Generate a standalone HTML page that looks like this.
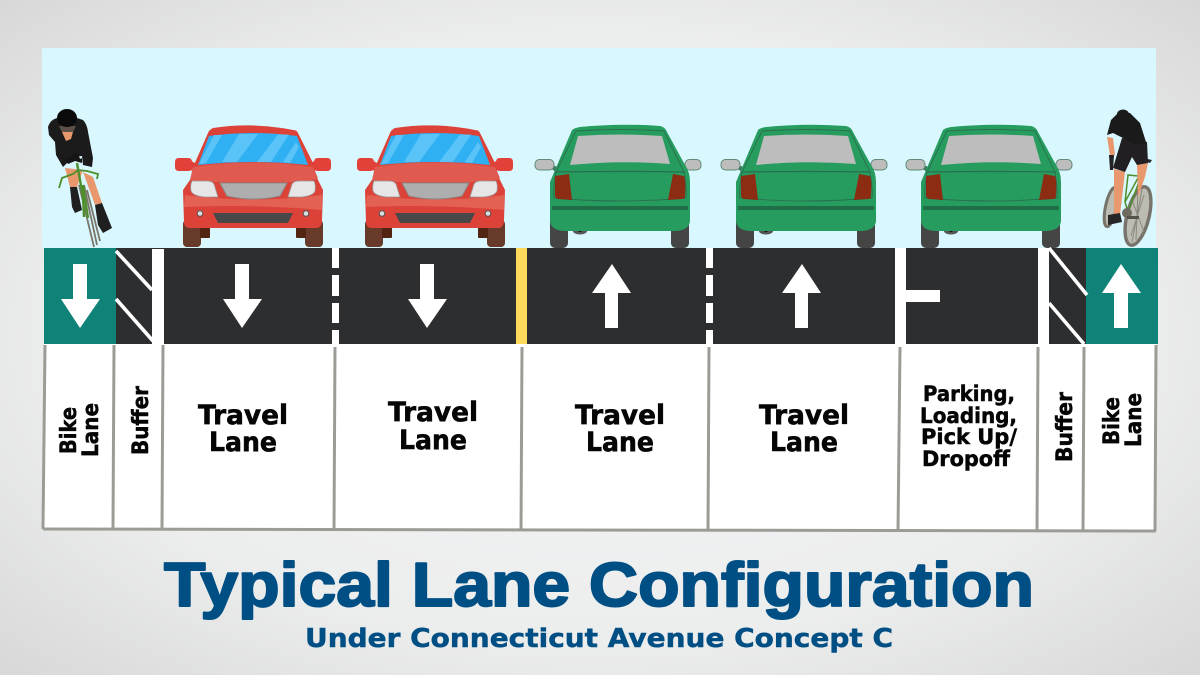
<!DOCTYPE html>
<html lang="en"><head><meta charset="utf-8"><title>Typical Lane Configuration</title>
<style>
html,body{margin:0;padding:0;background:#e4e5e6}
svg{display:block}
text{font-family:"DejaVu Sans","Liberation Sans",sans-serif;font-weight:700}
.l{fill:#050505;stroke:#050505;stroke-width:.6px;font-size:27px}
.p{fill:#050505;stroke:#050505;stroke-width:.5px;font-size:21px}
.v{fill:#050505;stroke:#050505;stroke-width:.5px;font-size:22px}
.t{font-family:"Liberation Sans",sans-serif;fill:#004f84;stroke:#004f84;stroke-width:2px;stroke-linejoin:round;font-size:62px}
.s{fill:#004f84;stroke:#004f84;stroke-width:.5px;font-size:26px}
</style></head><body>
<svg width="1200" height="675" viewBox="0 0 1200 675" xmlns="http://www.w3.org/2000/svg">
<defs>
<radialGradient id="bg" cx="50%" cy="50%" r="75%">
<stop offset="0" stop-color="#f4f5f6"/><stop offset=".6" stop-color="#eceded"/><stop offset="1" stop-color="#d4d4d4"/>
</radialGradient>
<g id="red">
<rect x="183" y="220" width="18" height="27" rx="4" fill="#683a2a"/>
<rect x="305" y="220" width="18" height="27" rx="4" fill="#683a2a"/>
<rect x="200" y="226" width="10" height="12" rx="1" fill="#512512"/>
<rect x="296" y="226" width="10" height="12" rx="1" fill="#512512"/>
<rect x="175" y="158" width="17" height="13" rx="3.500" fill="#e2413a"/>
<rect x="314" y="158" width="17" height="13" rx="3.500" fill="#e2413a"/>
<path d="M190 160L198 165L196 172L190 170ZM316 160L308 165L310 172L316 170Z" fill="#e2413a"/>
<path d="M183 190L192 177L194 165L208 133Q209 130 213 128Q253 122 293 130Q297 130 298 133L313 163L317 178L323 190L322 220Q322 227 317 228H190Q184 228 184 222Z" fill="#dd4238"/>
<path d="M198 165L209 136Q253 130 297 136L308 165Q253 159 198 165Z" fill="#2eb0f3"/>
<path d="M199 164L214 135H222L206 163ZM222 162L239 134H258L237 162ZM257 162L278 134.500H289L271 162ZM283 162L296 142L299 147L290 163Z" fill="#5ac3f8"/>
<path d="M193 167Q253 158 313 167L318 178Q316 181 287 182H220Q192 182 190 180Z" fill="#e15a4f"/>
<path d="M185 195Q253 204 322 195L322 210Q253 204 184 207Z" fill="#e36152"/>
<path d="M192 181H207Q212 181 214 184L218 197H205Q193 196 191 191Q190 185 192 181Z" fill="#e6e6e6" stroke="#999" stroke-width=".8"/>
<path d="M314 181H299Q294 181 292 184L288 197H301Q313 196 315 191Q316 185 314 181Z" fill="#e6e6e6" stroke="#999" stroke-width=".8"/>
<path d="M220 183H287L280 196Q253 202 227 196Z" fill="#aeaeae" stroke="#8a8a8a" stroke-width="1"/>
<path d="M213 213H293L288 223H218Z" fill="#484848"/>
<circle cx="200" cy="213.500" r="2.800" fill="#ddd" stroke="#555" stroke-width="1"/>
<circle cx="306" cy="213.500" r="2.800" fill="#ddd" stroke="#555" stroke-width="1"/>
</g>
<g id="green">
<rect x="550" y="215" width="18" height="33" rx="5" fill="#454545"/>
<rect x="671" y="215" width="18" height="33" rx="5" fill="#454545"/>
<ellipse cx="580" cy="231" rx="7" ry="3.500" fill="#555"/><circle cx="580" cy="230" r="2" fill="#111"/>
<path d="M550 164L560 168L556 172L550 168ZM690 164L680 168L684 172L690 168Z" fill="#3f7a5d"/>
<rect x="535" y="159.500" width="19" height="10.500" rx="4.500" fill="#bdbdbd" stroke="#5f8a75" stroke-width="1"/>
<rect x="685" y="159.500" width="16" height="10.500" rx="4.500" fill="#bdbdbd" stroke="#5f8a75" stroke-width="1"/>
<path d="M550 182L572 130Q574 128 580 127Q620 123 660 126Q665 127 667 132L685 165Q690 172 690 182V220Q690 230 676 231H564Q550 230 550 220Z" fill="#269d5e"/>
<path d="M570 165L578 136Q620 133 662 136L670 164Q620 160 570 165Z" fill="#bdbdbd"/>
<path d="M576 131Q620 128 664 131L684 172Q687 190 686 198Q620 204 554 198Q553 190 556 172Z" fill="none" stroke="#2b6e50" stroke-width=".9"/>
<path d="M555 172Q620 171 685 172" fill="none" stroke="#2b6e50" stroke-width="1.200"/>
<path d="M555 176L569 174L572 200L558 199Q555 198 555 195Z" fill="#8b2c13"/>
<path d="M673 174L684 176Q686 180 685 196Q685 199 682 199L668 200Z" fill="#8b2c13"/>
<rect x="552" y="206" width="136" height="4" rx="1" fill="#1f6e47"/>
</g>
</defs>
<rect width="1200" height="675" fill="url(#bg)"/>
<rect x="42" y="48" width="1114" height="200" fill="#d8f7fe"/>

<!-- left cyclist -->
<g>
<path d="M65 168L70 187H77L83 170Z" fill="#e9986e"/>
<path d="M83 172L93 177L102 203L95 205Z" fill="#e9986e"/>
<path d="M70 187H77L82 210L75 213L72 207Z" fill="#201f20"/>
<path d="M95 205L102 203L112 228L103 233L98 225Z" fill="#201f20"/>
<path d="M79 185L94 247M84 185L97 245M87 190L100 241" fill="none" stroke="#7b766a" stroke-width="1.800"/>
<path d="M48 127Q50 120 57 118Q67 106 77 118L83 120Q87 124 88 132L93 158L92 167L83 165L82 156L73 157L63 167L56 155L55 142L49 135Z" fill="#1b1b1b"/>
<path d="M59 126H76L73 132H62Z" fill="#5b5148"/>
<path d="M62 132H73L71 139L66 141Z" fill="#e9986e"/>
<ellipse cx="67" cy="118" rx="10" ry="9" fill="#0b0b0b"/>
<path d="M77 163L83 197L84 217M83 185L88 218" fill="none" stroke="#4e8f2b" stroke-width="2.400"/>
<path d="M59 188L62 178L73 174L78 170L87 171L98 174L97 179" fill="none" stroke="#4e8f2b" stroke-width="1.800"/>
<path d="M65 159L72 156L74 153H78L80 159L82 158V163L75 161L68 164Z" fill="#151515"/>
</g>

<!-- cars -->
<use href="#red"/>
<use href="#red" x="182"/>
<use href="#green"/>
<use href="#green" x="186"/>
<use href="#green" x="371"/>

<!-- right cyclist -->
<g>
<ellipse cx="1111" cy="207" rx="5.500" ry="20" transform="rotate(12 1111 207)" fill="#bdbcb3" stroke="#77736a" stroke-width="3"/>
<ellipse cx="1138" cy="216" rx="11" ry="30" transform="rotate(14 1138 216)" fill="#bdbcb3" stroke="#77736a" stroke-width="3.400"/>
<path d="M1138 190L1136 240M1132 200L1144 232M1144 195L1131 236M1142 190L1132 242" stroke="#8c887c" stroke-width="1"/>
<path d="M1145 165L1125 202L1128 175L1138 176M1145 165L1128 212M1125 202L1128 212" fill="none" stroke="#4e8f2b" stroke-width="1.500"/>
<path d="M1143 158L1152 160L1150 163L1143 161Z" fill="#2a2a2a"/>
<path d="M1114 169L1125 172L1120 215H1114Z" fill="#e9986e"/>
<path d="M1137 165L1148 163L1145 177L1138 197Z" fill="#e9986e"/>
<path d="M1108 215L1120 213L1122 222L1108 225Z" fill="#262626"/>
<circle cx="1127" cy="213" r="5" fill="#6e6a60"/>
<path d="M1127 216H1139V219H1127Z" fill="#55524a"/>
<path d="M1107 137L1113 138L1115 155H1110Z" fill="#e9986e"/>
<path d="M1109 155H1114L1113 170H1110Z" fill="#222"/>
<path d="M1122 138L1147 142L1148 163L1137 165L1132 157L1125 172L1113 168Z" fill="#211f22"/>
<path d="M1107 135L1111 120L1118 113H1130L1140 123L1146 142L1135 145L1123 138L1113 133Z" fill="#1a1a1a"/>
<ellipse cx="1123" cy="114" rx="6" ry="4.500" fill="#1a1a1a"/>
</g>

<!-- road -->
<rect x="44" y="248" width="1114" height="96" fill="#2d2e30"/>
<rect x="44" y="248" width="72" height="96" fill="#0f8377"/>
<rect x="1086" y="248" width="72" height="96" fill="#0f8377"/>
<rect x="152" y="249" width="12" height="95" fill="#fff"/>
<path d="M116 251L152 290M116 299L153 341" stroke="#fff" stroke-width="3.600"/>
<path d="M332 248h7v20h-7zM332 275h7v21h-7zM332 303h7v20h-7zM332 330h7v14h-7z" fill="#fff"/>
<path d="M706 248h7v20h-7zM706 275h7v21h-7zM706 303h7v20h-7zM706 330h7v14h-7z" fill="#fff"/>
<rect x="516" y="248" width="11" height="96" fill="#ffd95a"/>
<rect x="895" y="248" width="11" height="96" fill="#fff"/>
<rect x="906" y="290" width="34" height="12" fill="#fff"/>
<rect x="1038" y="248" width="11" height="96" fill="#fff"/>
<path d="M1049 248L1087 295M1049 303L1084 344" stroke="#fff" stroke-width="3.600"/>
<!-- arrows -->
<path d="M73 264H87V299H100L80 328L61 299H73Z" fill="#fff"/>
<path d="M235 264H249V299H262L242 328L223 299H235Z" fill="#fff"/>
<path d="M420 264H434V299H447L427 328L408 299H420Z" fill="#fff"/>
<path d="M612 264L631 293H618V328H605V293H592Z" fill="#fff"/>
<path d="M802 264L821 293H808V328H795V293H782Z" fill="#fff"/>
<path d="M1121 264L1141 293H1128V328H1114V293H1102Z" fill="#fff"/>

<!-- table -->
<rect x="44" y="344" width="1112" height="186" fill="#fff"/>
<g stroke="#9c9c96" stroke-width="3" fill="none">
<path d="M45 345L43 529"/><path d="M114 345L113 528"/><path d="M163 345L162 528"/>
<path d="M335 347L334 531"/><path d="M522 347L521 531"/><path d="M709 347L708 531"/>
<path d="M900 347L898 531"/><path d="M1038 347L1037 531"/><path d="M1084 347L1083 531"/>
<path d="M1156 345L1155 531"/><path d="M43 529L1156 531"/>
</g>

<!-- labels -->
<text class="l" x="198" y="424" textLength="90" lengthAdjust="spacingAndGlyphs">Travel</text>
<text class="l" x="209" y="451" textLength="68" lengthAdjust="spacingAndGlyphs">Lane</text>
<text class="l" x="388" y="421" textLength="90" lengthAdjust="spacingAndGlyphs">Travel</text>
<text class="l" x="399" y="449" textLength="68" lengthAdjust="spacingAndGlyphs">Lane</text>
<text class="l" x="575" y="424" textLength="90" lengthAdjust="spacingAndGlyphs">Travel</text>
<text class="l" x="586" y="451" textLength="68" lengthAdjust="spacingAndGlyphs">Lane</text>
<text class="l" x="759" y="424" textLength="90" lengthAdjust="spacingAndGlyphs">Travel</text>
<text class="l" x="770" y="451" textLength="68" lengthAdjust="spacingAndGlyphs">Lane</text>
<text class="p" x="923" y="401" textLength="92" lengthAdjust="spacingAndGlyphs">Parking,</text>
<text class="p" x="920" y="423" textLength="97" lengthAdjust="spacingAndGlyphs">Loading,</text>
<text class="p" x="921" y="444" textLength="96" lengthAdjust="spacingAndGlyphs">Pick Up/</text>
<text class="p" x="922" y="466" textLength="88" lengthAdjust="spacingAndGlyphs">Dropoff</text>
<text class="v" transform="translate(76 454) rotate(-90)" textLength="47" lengthAdjust="spacingAndGlyphs">Bike</text>
<text class="v" transform="translate(98 457) rotate(-90)" textLength="54" lengthAdjust="spacingAndGlyphs">Lane</text>
<text class="v" transform="translate(148 455) rotate(-90)" textLength="69" lengthAdjust="spacingAndGlyphs">Buffer</text>
<text class="v" transform="translate(1072 462) rotate(-90)" textLength="70" lengthAdjust="spacingAndGlyphs">Buffer</text>
<text class="v" transform="translate(1119 445) rotate(-90)" textLength="48" lengthAdjust="spacingAndGlyphs">Bike</text>
<text class="v" transform="translate(1141 447) rotate(-90)" textLength="54" lengthAdjust="spacingAndGlyphs">Lane</text>

<!-- title -->
<text class="t" x="164" y="606" textLength="870" lengthAdjust="spacingAndGlyphs">Typical Lane Configuration</text>
<text class="s" x="305" y="647" textLength="588" lengthAdjust="spacingAndGlyphs">Under Connecticut Avenue Concept C</text>
</svg>
</body></html>
